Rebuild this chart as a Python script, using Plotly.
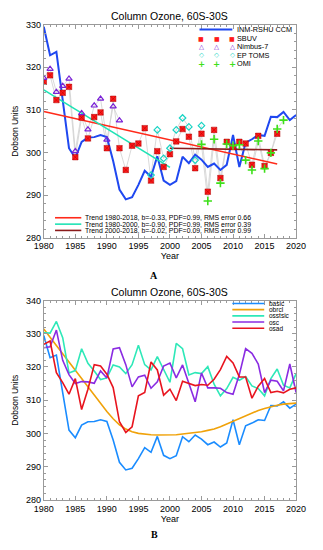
import plotly.graph_objects as go

# ---------------- data ----------------
years = list(range(1980, 2021))

# INM-RSHU CCM model (= "basic" run)
basic = [329.5, 322.8, 323.6, 312.5, 301.0, 298.7, 302.5, 303.5, 303.6, 304.1,
         303.6, 298.0, 291.3, 289.0, 289.5, 292.4, 295.7, 294.3, 299.1, 293.4,
         292.4, 293.3, 299.0, 297.5, 299.5, 298.3, 296.6, 297.4, 295.9, 297.1,
         304.1, 296.6, 302.3, 303.1, 304.1, 303.9, 308.4, 308.3, 309.5, 307.6,
         308.8]

obrcl = [331.4, 329.0, 326.5, 324.0, 321.5, 319.0, 316.5, 314.0, 311.5, 309.0,
         306.6, 304.4, 302.6, 301.3, 300.5, 300.0, 299.7, 299.6, 299.5, 299.5,
         299.5, 299.6, 299.8, 300.0, 300.2, 300.5, 300.9, 301.3, 302.0, 302.8,
         303.7, 304.5, 305.4, 306.2, 306.9, 307.5, 308.1, 308.5, 308.8, 309.0,
         309.1]

osstsic = [330.3, 330.2, 333.7, 328.8, 318.2, 318.9, 325.5, 321.1, 318.8, 316.2,
           316.7, 320.6, 320.0, 318.0, 320.7, 326.5, 320.7, 319.1, 323.1, 319.0,
           315.4, 327.1, 325.5, 317.6, 318.3, 318.0, 320.1, 314.8, 311.3, 313.5,
           316.9, 316.0, 317.1, 314.3, 313.5, 311.3, 316.5, 319.4, 314.5, 313.7,
           318.0]

osc = [325.8, 326.1, 331.1, 322.0, 317.7, 315.0, 315.6, 315.5, 315.1, 318.8,
       316.7, 325.4, 325.8, 320.7, 314.0, 317.0, 317.5, 313.6, 315.5, 320.3,
       321.2, 316.7, 320.6, 314.7, 309.5, 318.2, 313.7, 313.7, 313.6, 312.3,
       311.8, 317.7, 325.5, 324.1, 320.9, 312.3, 316.0, 315.7, 312.8, 320.9,
       312.3]

osad = [326.8, 327.8, 318.3, 315.3, 311.8, 316.5, 307.2, 313.3, 320.7, 320.3,
        317.8, 313.8, 303.5, 300.3, 302.0, 311.3, 312.3, 321.5, 319.1, 311.5,
        313.3, 309.9, 315.7, 315.1, 314.4, 314.7, 314.5, 316.3, 319.2, 323.2,
        321.2, 317.0, 317.0, 310.6, 314.2, 316.5, 312.3, 312.7, 312.2, 313.3,
        313.7]

sbuv_years = list(range(1980, 2018))
sbuv = [316.6, 318.1, 312.3, 314.0, 315.4, 298.9, 308.2, 303.3, 308.3, 309.4,
        301.0, 312.6, 301.0, 295.9, 301.6, 302.1, 305.7, 293.4, 300.3, 296.6,
        299.6, 302.6, 305.5, 303.7, 296.3, 304.4, 290.8, 305.3, 294.0, 302.5,
        301.3, 302.5, 302.1, 297.1, 303.9, 296.8, 299.9, 304.4]

nimbus_years = list(range(1980, 1993))
nimbus = [317.5, 319.6, 314.2, 315.6, 317.3, 300.3, 309.2, 305.4, 311.0, 312.6,
          303.0, 310.8, 307.5]

eptoms_years = list(range(1997, 2006))
eptoms = [294.7, 305.3, 298.6, 301.0, 305.3, 308.1, 306.0, 298.2, 306.3]

omi_years = list(range(2005, 2019))
omi = [301.9, 288.6, 303.1, 292.8, 302.0, 301.6, 301.8, 298.2, 295.9, 302.7,
       296.2, 299.9, 305.5, 307.6]

trend1_years = [1980, 2017]
trend1 = [309.6, 297.3]
trend2_years = [1980, 2000]
trend2 = [314.7, 296.5]
trend3_years = [2000, 2017]
trend3 = [301.0, 300.6]

trend_labels = ["Trend 1980-2018, b=-0.33, PDF=0.99, RMS error 0.66",
                "Trend 1980-2000, b=-0.90, PDF=0.99, RMS error 0.39",
                "Trend 2000-2018, b=-0.02, PDF=0.09, RMS error 0.99"]
obs_labels = ["INM-RSHU CCM", "SBUV", "Nimbus-7", "EP TOMS", "OMI"]
run_labels = ["basic", "obrcl", "osstsic", "osc", "osad"]

# ---------------- styles ----------------
C_MODEL = "#1f48f0"
C_SBUV = "#ff1a1a"
C_NIMBUS = "#7a22d6"
C_EPTOMS = "#18d4c4"
C_OMI = "#3ee01a"
C_T1 = "#ff2a1a"
C_T2 = "#1fe3b5"
C_T3 = "#8b1c1c"
run_colors = ["#1a8cff", "#f0a20a", "#2ee8b8", "#8a2be2", "#e8141e"]
GRAY = "#cfcfcf"
FONT = "Liberation Sans, Arial, sans-serif"

W, H = 323, 550
def px(x):
    return x / W
def py(y):
    return 1 - y / H

fig = go.Figure()

# ---- panel A ----
for xs, ys in [(sbuv_years, sbuv), (nimbus_years, nimbus),
               (eptoms_years, eptoms), (omi_years, omi)]:
    fig.add_trace(go.Scatter(x=xs, y=ys, mode="lines",
                             line=dict(color=GRAY, width=0.8),
                             xaxis="x", yaxis="y", showlegend=False))

fig.add_trace(go.Scatter(x=years, y=basic, mode="lines",
                         line=dict(color=C_MODEL, width=2),
                         xaxis="x", yaxis="y", showlegend=False))
fig.add_trace(go.Scatter(x=trend1_years, y=trend1, mode="lines",
                         line=dict(color=C_T1, width=1.6), xaxis="x", yaxis="y",
                         showlegend=False))
fig.add_trace(go.Scatter(x=trend2_years, y=trend2, mode="lines",
                         line=dict(color=C_T2, width=1.6), xaxis="x", yaxis="y",
                         showlegend=False))
fig.add_trace(go.Scatter(x=trend3_years, y=trend3, mode="lines",
                         line=dict(color=C_T3, width=1.6), xaxis="x", yaxis="y",
                         showlegend=False))

fig.add_trace(go.Scatter(x=sbuv_years, y=sbuv, mode="markers",
                         marker=dict(symbol="square-x", size=5.5, color=C_SBUV,
                                     line=dict(color="#b00000", width=0.5)),
                         xaxis="x", yaxis="y", showlegend=False))
fig.add_trace(go.Scatter(x=nimbus_years, y=nimbus, mode="markers",
                         marker=dict(symbol="triangle-up-open", size=5.5, color=C_NIMBUS,
                                     line=dict(width=1.2)),
                         xaxis="x", yaxis="y", showlegend=False))
fig.add_trace(go.Scatter(x=eptoms_years, y=eptoms, mode="markers",
                         marker=dict(symbol="diamond-open", size=5, color=C_EPTOMS,
                                     line=dict(width=1.2)),
                         xaxis="x", yaxis="y", showlegend=False))
fig.add_trace(go.Scatter(x=omi_years, y=omi, mode="markers",
                         marker=dict(symbol="cross-thin-open", size=6, color=C_OMI,
                                     line=dict(width=1.6, color=C_OMI)),
                         xaxis="x", yaxis="y", showlegend=False))

# ---- panel B ----
for vals, col in zip([basic, obrcl, osstsic, osc, osad], run_colors):
    fig.add_trace(go.Scatter(x=years, y=vals, mode="lines",
                             line=dict(color=col, width=1.6),
                             xaxis="x2", yaxis="y2", showlegend=False))

# ---------------- axes ----------------
axis_common = dict(showline=True, linecolor="#9a9a9a", linewidth=1, mirror="ticks",
                   ticks="inside", ticklen=4, tickcolor="#9a9a9a", tickwidth=1,
                   showgrid=False, zeroline=False,
                   tickfont=dict(family=FONT, size=9, color="black"))

fig.update_layout(
    width=W, height=H, margin=dict(l=0, r=0, t=0, b=0),
    paper_bgcolor="white", plot_bgcolor="white", showlegend=False,
    hovermode=False,
    xaxis=dict(domain=[px(36), px(305)], range=[1980, 2020], anchor="y",
               dtick=5, tick0=1980,
               minor=dict(dtick=1, ticklen=2, tickcolor="#9a9a9a", ticks="inside"),
               title=dict(text="Year", font=dict(family=FONT, size=9, color="black"),
                          standoff=1),
               **axis_common),
    yaxis=dict(domain=[py(237), py(20)], range=[280, 330], anchor="x",
               dtick=10,
               minor=dict(dtick=2, ticklen=2, tickcolor="#9a9a9a", ticks="inside"),
               title=dict(text="Dobson Units", font=dict(family=FONT, size=8.5, color="black"),
                          standoff=5),
               **axis_common),
    xaxis2=dict(domain=[px(36), px(305)], range=[1980, 2020], anchor="y2",
                dtick=5, tick0=1980,
                minor=dict(dtick=1, ticklen=2, tickcolor="#9a9a9a", ticks="inside"),
                title=dict(text="Year", font=dict(family=FONT, size=9, color="black"),
                           standoff=1),
                **axis_common),
    yaxis2=dict(domain=[py(504), py(301)], range=[280, 340], anchor="x2",
                dtick=10,
                minor=dict(dtick=2, ticklen=2, tickcolor="#9a9a9a", ticks="inside"),
                title=dict(text="Dobson Units", font=dict(family=FONT, size=8.5, color="black"),
                           standoff=5),
                **axis_common),
)

annotations = []
shapes = []

def text(x, y, s, size, color="black", xanchor="left", family=FONT):
    annotations.append(dict(x=px(x), y=py(y), xref="paper", yref="paper", text=s,
                            showarrow=False, xanchor=xanchor, yanchor="middle",
                            font=dict(family=family, size=size, color=color)))

def hline(x0, x1, y, color, width):
    shapes.append(dict(type="line", xref="paper", yref="paper",
                       x0=px(x0), x1=px(x1), y0=py(y), y1=py(y),
                       line=dict(color=color, width=width)))

# titles
text(170, 11, "Column Ozone, 60S-30S", 10.5, xanchor="center")
text(170, 292, "Column Ozone, 60S-30S", 10.5, xanchor="center")
text(154, 276, "<b>A</b>", 10, xanchor="center", family="Liberation Serif, serif")
text(154, 539, "<b>B</b>", 10, xanchor="center", family="Liberation Serif, serif")

# legend panel A (top right)
leg_y = [25, 34, 42.7, 51.3, 60]
hline(202, 237, leg_y[0], C_MODEL, 2)
sym = [("■", C_SBUV, 6), ("△", C_NIMBUS, 6.5), ("◇", C_EPTOMS, 6.5), ("<b>+</b>", C_OMI, 8.5)]
for (s, c, sz), yy in zip(sym, leg_y[1:]):
    for xx in (204, 220.5, 237):
        text(xx, yy, s, sz, color=c, xanchor="center", family="DejaVu Sans, sans-serif")
for lab, yy in zip(obs_labels, leg_y):
    text(240, yy, lab, 7.3)

# trend legend panel A (bottom left)
tr_y = [216.7, 223.2, 229.6]
for lab, yy, c in zip(trend_labels, tr_y, [C_T1, C_T2, C_T3]):
    hline(48, 76, yy, c, 1.6)
    text(78, yy, lab, 6.9)

# legend panel B
rb_y = [304, 310.3, 316.6, 322.9, 329.2]
for lab, yy, c in zip(run_labels, rb_y, run_colors):
    hline(237, 271, yy, c, 1.6)
    text(274, yy, lab, 6.5)

fig.update_layout(annotations=annotations, shapes=shapes)

fig.write_html("out.html",
               config={"displayModeBar": False},
               post_script="document.body.style.margin='0';document.body.style.padding='0';")
